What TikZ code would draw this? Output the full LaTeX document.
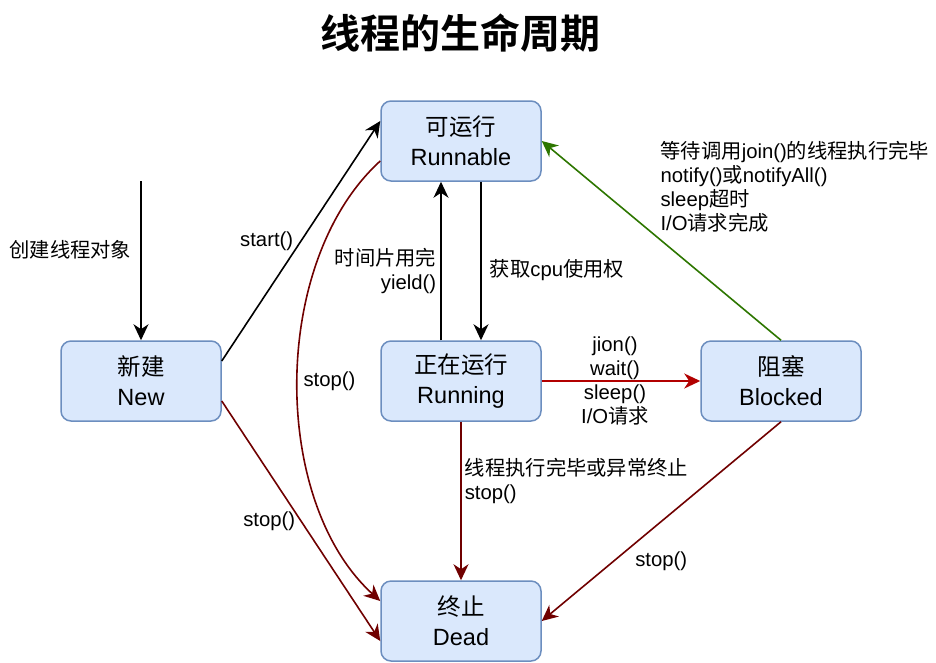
\documentclass[tikz,border=0pt]{standalone}
\usepackage{fontspec}
\setmainfont{Liberation Sans}
\newfontfamily\cjk{Noto Sans CJK SC}[BoldFont={Noto Sans CJK SC Bold}]
\usetikzlibrary{calc}
\usetikzlibrary{arrows.meta}
\definecolor{boxfill}{HTML}{DAE8FC}
\definecolor{boxline}{HTML}{6C8EBF}
\definecolor{stopred}{HTML}{700000}
\definecolor{blockred}{HTML}{B20000}
\definecolor{wakegreen}{HTML}{2D7600}
\newcommand{\zh}[1]{{\cjk #1}}

\begin{document}
\begin{tikzpicture}[x=1pt, y=-1pt, >={Stealth[length=16pt,width=15pt,inset=5pt]},
  every state/.style={draw=boxline, fill=boxfill, line width=1.5pt, rounded corners=10pt,
    minimum width=160pt, minimum height=80pt, align=center, font=\fontsize{23.5}{30}\selectfont},
  edge text/.style={text=black, font=\fontsize{20.3}{24}\selectfont, inner sep=1pt},
  flow/.style={->, line width=1.6pt}]

\useasboundingbox (0,0) rectangle (936,662);

\node [font={\cjk\bfseries\fontsize{40}{48}\selectfont}] (title) at (460,33) {线程的生命周期};

\foreach \n/\z/\e/\px/\py in {new/新建/New/141/381, runnable/可运行/Runnable/461/141,
    running/正在运行/Running/461/381, blocked/阻塞/Blocked/781/381, dead/终止/Dead/461/621}
  \node [every state] (state-\n) at (\px,\py) {\zh{\z}\\\e};

\coordinate (create) at (141,181);
\draw [flow] (create) -- (state-new)
  node [edge text, pos=.43, left=8pt] (lbl-create) {\zh{创建线程对象}};

\draw [flow] ([yshift=20pt]state-new.east) -- ([yshift=20pt]state-runnable.west)
  node [edge text, pos=.5, left=6pt] (lbl-start) {start()};

\draw [flow] ([xshift=-20pt]state-running.north) -- ([xshift=-20pt]state-runnable.south)
  node [edge text, pos=.44, left=3pt, align=right] (lbl-yield) {\zh{时间片用完}\\yield()};

\draw [flow] ([xshift=20pt]state-runnable.south) -- ([xshift=20pt]state-running.north)
  node [edge text, pos=.56, right=7pt] (lbl-cpu) {\zh{获取}cpu\zh{使用权}};

% stop() transitions
\draw [flow, stopred] ([yshift=-20pt]state-runnable.west)
  .. controls +(-110,100) and +(-110,-100) .. ([yshift=20pt]state-dead.west)
  node [edge text, pos=.5, right=4pt] (lbl-stop-runnable) {stop()};

\draw [flow, stopred] ([yshift=-20pt]state-new.east) -- ([yshift=-20pt]state-dead.west)
  node [edge text, pos=.5, left=4pt] (lbl-stop-new) {stop()};

\draw [flow, stopred] (state-running) -- (state-dead)
  node [edge text, pos=.375, right=2pt, align=left] (lbl-finish) {\zh{线程执行完毕或异常终止}\\stop()};

\draw [flow, stopred] (state-blocked.south) -- (state-dead.east)
  node [edge text, pos=.7, anchor=west, xshift=20pt] (lbl-stop-blocked) {stop()};

\draw [flow, blockred, line width=2.2pt] (state-running) -- (state-blocked)
  node [edge text, pos=.5, xshift=-6pt, align=center] (lbl-block) {jion()\\wait()\\sleep()\\I/O\zh{请求}};

\draw [flow, wakegreen] (state-blocked.north) -- (state-runnable.east)
  node [edge text, pos=.77, anchor=west, xshift=62pt, align=left] (lbl-wake)
  {\zh{等待调用}join()\zh{的线程执行完毕}\\notify()\zh{或}notifyAll()\\sleep\zh{超时}\\I/O\zh{请求完成}};

\end{tikzpicture}
\end{document}
